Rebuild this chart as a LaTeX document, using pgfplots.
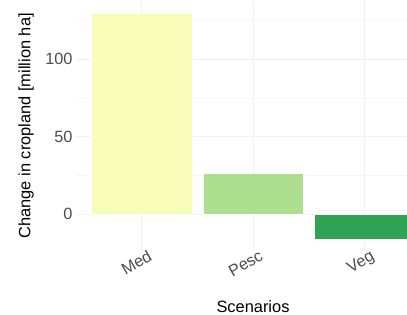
\documentclass[border=0pt]{standalone}
\usepackage{fontspec}
\setmainfont{Liberation Sans}
\usepackage{pgfplots}
\pgfplotsset{compat=1.18}
\definecolor{medc}{HTML}{F7FCB9}
\definecolor{pescc}{HTML}{ADDD8E}
\definecolor{vegc}{HTML}{31A354}
\definecolor{gray30}{HTML}{4D4D4D}
\definecolor{grid92}{HTML}{EBEBEB}
\begin{document}
\begin{tikzpicture}[x=1pt,y=1pt]
\useasboundingbox (0,0) rectangle (407,315);
\clip (0,0) rectangle (407,315);
\begin{axis}[
  at={(74.9pt,64.4pt)}, anchor=south west,
  scale only axis, width=356.1pt, height=249.3pt,
  xmin=-0.6, xmax=2.6, ymin=-23.4, ymax=137.4,
  axis line style={draw=none},
  major tick length=0pt, minor tick length=0pt,
  xtick={0,1,2}, xticklabels={Med,Pesc,Veg},
  ytick={0,50,100}, minor ytick={25,75,125},
  xmajorgrids, ymajorgrids, yminorgrids,
  major grid style={color=grid92!70, line width=0.6pt},
  minor grid style={color=grid92!50, line width=0.4pt},
  ybar, bar width=0.9,
  ticklabel style={font=\fontsize{16.3}{19}\selectfont, text=gray30},
  /pgf/number format/assume math mode=true,
  yticklabel style={anchor=east, inner sep=0pt, xshift=-2.2pt},
  xticklabel style={rotate=30, anchor=north east, inner sep=0pt, xshift=5.5pt, yshift=-1.5pt},
]
\addplot[fill=medc, draw=white, line width=0.4pt, bar shift=0pt] coordinates {(0,130)};
\addplot[fill=pescc, draw=white, line width=0.4pt, bar shift=0pt] coordinates {(1,26.2)};
\addplot[fill=vegc, draw=white, line width=0.4pt, bar shift=0pt] coordinates {(2,-16.1)};
\end{axis}
\node[anchor=base, font=\fontsize{16.4}{19}\selectfont] at (253,2.3) {Scenarios};
\node[anchor=base, rotate=90, font=\fontsize{16.4}{19}\selectfont] at (30.3,189.2) {Change in cropland [million ha]};
\end{tikzpicture}
\end{document}
